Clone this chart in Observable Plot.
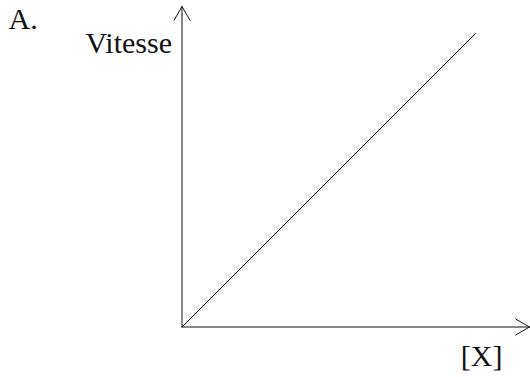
<!DOCTYPE html>
<html>
<head>
<meta charset="utf-8">
<script src="https://cdn.jsdelivr.net/npm/d3@7"></script>
<script src="https://cdn.jsdelivr.net/npm/@observablehq/plot@0.6"></script>
<style>
  html, body { margin: 0; padding: 0; background: #fff; }
  svg text { font-family: "Liberation Serif", "Times New Roman", Times, serif !important; }
</style>
</head>
<body>
<div id="chart"></div>
<script>
// Data
const panelLabel = "A.";
const yLabel = "Vitesse";
const xLabel = "[X]";
const lineX = [0, 10];
const lineY = [0, 10];
const xAxisEnd = 11.84;
const yAxisEnd = 10.92;

const linePts = lineX.map((x, i) => ({x, y: lineY[i]}));
const axes = [
  {x1: 0, y1: 0, x2: xAxisEnd, y2: 0},
  {x1: 0, y1: 0, x2: 0, y2: yAxisEnd}
];

const chart = Plot.plot({
  width: 530,
  height: 377,
  margin: 0,
  style: {background: "#fff"},
  x: {domain: [0, xAxisEnd], range: [181.5, 529], axis: null},
  y: {domain: [0, yAxisEnd], range: [326.5, 6], axis: null},
  marks: [
    Plot.arrow(axes, {x1: "x1", y1: "y1", x2: "x2", y2: "y2", stroke: "#111", strokeWidth: 1, headLength: 24, headAngle: 60}),
    Plot.line(linePts, {x: "x", y: "y", stroke: "#111", strokeWidth: 1}),
    Plot.text([panelLabel], {frameAnchor: "top-left", dx: 8, dy: 28, text: d => d, textAnchor: "start", lineAnchor: "bottom", fontSize: 30, fill: "#111"}),
    Plot.text([yLabel], {x: 0, y: yAxisEnd, dx: -10, dy: 46, text: d => d, textAnchor: "end", lineAnchor: "bottom", fontSize: 30, fill: "#111"}),
    Plot.text([xLabel], {x: xAxisEnd, y: 0, dx: -27, dy: 38.5, text: d => d, textAnchor: "end", lineAnchor: "bottom", fontSize: 30, fill: "#111"})
  ]
});
document.getElementById("chart").appendChild(chart);
</script>
</body>
</html>
